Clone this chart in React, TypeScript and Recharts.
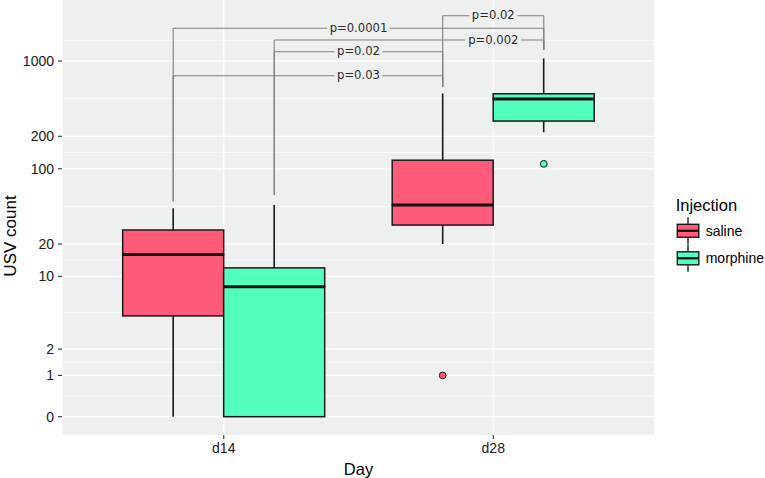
import {
  ComposedChart,
  Bar,
  XAxis,
  YAxis,
  CartesianGrid,
  Scatter,
  ReferenceLine,
  ReferenceDot,
  Legend,
} from "recharts";

// USV counts per day / injection (pseudo-log y axis)
const days = ["d14", "d28"];
const injections = ["saline", "morphine"];
const injectionColors = ["#FF5A79", "#52FFBC"];

const salineMin = [0, 20];
const salineQ1 = [4.25, 30];
const salineMedian = [16, 46];
const salineQ3 = [27, 120];
const salineMax = [43, 500];
const salineOutliers = [[], [1]];

const morphineMin = [0, 218];
const morphineQ1 = [0, 277];
const morphineMedian = [8, 444];
const morphineQ3 = [12, 496];
const morphineMax = [46, 1058];
const morphineOutliers = [[], [111]];

const yTicks = [0, 1, 2, 10, 20, 100, 200, 1000];

// significance brackets
const bracketLabels = ["p=0.0001", "p=0.02", "p=0.002", "p=0.02", "p=0.03"];
const bracketStart = ["saline-d14", "saline-d28", "morphine-d14", "morphine-d14", "saline-d14"];
const bracketEnd = ["morphine-d28", "morphine-d28", "morphine-d28", "saline-d28", "saline-d28"];
const bracketLevel = [2010, 2631, 1565, 1218, 729];
const bracketLabelAt = [1.5, 2, 2, 1.5, 1.5];
const tipEnds: Record<string, number> = {
  "saline-d14": 50,
  "morphine-d14": 57,
  "saline-d28": 577,
  "morphine-d28": 1264,
};

const PANEL = "#EEF0EF";
const INK = "#1a1a1a";
const AXIS_FONT = "'Liberation Sans', Arial, sans-serif";

// ggplot pseudo_log (sigma = 1) transform
const tf = (v: number) => Math.asinh(v);
const DODGE = 0.1875;

const posOf = (key: string) => {
  const [inj, day] = key.split("-");
  return days.indexOf(day) + 1 + (inj === "saline" ? -DODGE : DODGE);
};

const series = [
  { k: "s", min: salineMin, q1: salineQ1, med: salineMedian, q3: salineQ3, max: salineMax },
  { k: "m", min: morphineMin, q1: morphineQ1, med: morphineMedian, q3: morphineQ3, max: morphineMax },
];

const rows = days.map((day, i) => {
  const row: Record<string, string | number> = { day };
  series.forEach((s) => {
    row[s.k + "Base"] = tf(s.min[i]);
    row[s.k + "Lw"] = tf(s.q1[i]) - tf(s.min[i]);
    row[s.k + "Lb"] = tf(s.med[i]) - tf(s.q1[i]);
    row[s.k + "Ub"] = tf(s.q3[i]) - tf(s.med[i]);
    row[s.k + "Uw"] = tf(s.max[i]) - tf(s.q3[i]);
  });
  return row;
});

const outlierPoints = (outs: number[][], inj: number) =>
  outs.flatMap((vals, d) => vals.map((v) => ({ x: d + 1 + (inj === 0 ? -DODGE : DODGE), y: tf(v) })));

const minorGrid = [0.4407, 1.1625, 2.2209, 3.3439, 4.4939, 5.6449, 6.7962, 8.041];

// DejaVu Sans advance widths for the p-value labels
const dvw: Record<string, number> = { p: 0.635, "=": 0.838, ".": 0.318 };
const textWidth = (s: string, size: number) =>
  s.split("").reduce((a, c) => a + (dvw[c] ?? 0.636), 0) * size;

const blank = () => <g />;
const whisker = (p: any) => (
  <line
    x1={p.x + p.width / 2}
    x2={p.x + p.width / 2}
    y1={p.y}
    y2={p.y + p.height}
    stroke={INK}
    strokeWidth={1.6}
  />
);
const lowerBox = (color: string) => (p: any) =>
  p.height > 0 ? (
    <rect x={p.x} y={p.y} width={p.width} height={p.height} fill={color} stroke={INK} strokeWidth={1.5} />
  ) : (
    <g />
  );
const upperBox = (color: string) => (p: any) => (
  <g>
    {p.height > 0 && (
      <rect x={p.x} y={p.y} width={p.width} height={p.height} fill={color} stroke={INK} strokeWidth={1.5} />
    )}
    <line x1={p.x} x2={p.x + p.width} y1={p.y + p.height} y2={p.y + p.height} stroke="#111" strokeWidth={3} />
  </g>
);

function LegendBox() {
  const centers = [40.8, 68.3];
  return (
    <svg width={95} height={95} style={{ fontFamily: AXIS_FONT }}>
      <text x={5.7} y={20.7} fontSize={16.5} fill="#000">
        Injection
      </text>
      {injections.map((name, i) => (
        <g key={name}>
          <line x1={18} x2={18} y1={centers[i] - 13.5} y2={centers[i] + 13.5} stroke={INK} strokeWidth={1.4} />
          <rect x={7.3} y={centers[i] - 6.5} width={21.5} height={13} fill={injectionColors[i]} stroke={INK} strokeWidth={1.4} />
          <line x1={7.3} x2={28.8} y1={centers[i]} y2={centers[i]} stroke="#111" strokeWidth={2.2} />
          <text x={35.7} y={centers[i] + 5} fontSize={14} fill="#000">
            {name}
          </text>
        </g>
      ))}
    </svg>
  );
}

export default function App() {
  return (
    <div style={{ position: "absolute", left: 0, top: 0, fontFamily: AXIS_FONT }}>
      <ComposedChart
        width={765}
        height={478}
        data={rows}
        margin={{ top: 0, right: 110, bottom: 0, left: 0 }}
        barGap={0}
        barCategoryGap="12.5%"
      >
        <CartesianGrid fill={PANEL} stroke="#ffffff" strokeWidth={0.7} vertical={false} horizontalValues={minorGrid} />
        <CartesianGrid stroke="#ffffff" strokeWidth={1.3} horizontalValues={yTicks.map(tf)} />
        <XAxis
          dataKey="day"
          type="category"
          padding={{ left: 27, right: 27 }}
          height={43}
          tickSize={4}
          tickMargin={4}
          axisLine={false}
          interval={0}
          tickLine={{ stroke: "#333", strokeWidth: 1.1 }}
          tick={{ fill: "#1a1a1a", fontSize: 14 }}
          label={{
            content: (p: any) => (
              <text
                x={p.viewBox.x + p.viewBox.width / 2}
                y={p.viewBox.y + 40}
                textAnchor="middle"
                fontSize={16.5}
                fill="#000"
              >
                Day
              </text>
            ),
          }}
        />
        <XAxis xAxisId="num" dataKey="x" type="number" domain={[0.4, 2.6]} allowDataOverflow hide />
        <YAxis
          dataKey="y"
          type="number"
          domain={[-0.391, 8.904]}
          allowDataOverflow
          ticks={yTicks.map(tf)}
          interval={0}
          tickFormatter={(v: number) => String(Math.round(Math.sinh(v)))}
          width={62}
          tickSize={4}
          tickMargin={4}
          axisLine={false}
          tickLine={{ stroke: "#333", strokeWidth: 1.1 }}
          tick={{ fill: "#1a1a1a", fontSize: 14 }}
          label={{
            content: () => (
              <text x={15.5} y={236} transform="rotate(-90 15.5 236)" textAnchor="middle" fontSize={17} fill="#000">
                USV count
              </text>
            ),
          }}
        />

        {series.map((s, i) => [
          <Bar key={s.k + "Base"} dataKey={s.k + "Base"} stackId={s.k} shape={blank} isAnimationActive={false} legendType="none" />,
          <Bar key={s.k + "Lw"} dataKey={s.k + "Lw"} stackId={s.k} shape={whisker} isAnimationActive={false} legendType="none" />,
          <Bar key={s.k + "Lb"} dataKey={s.k + "Lb"} stackId={s.k} shape={lowerBox(injectionColors[i])} isAnimationActive={false} legendType="none" />,
          <Bar key={s.k + "Ub"} dataKey={s.k + "Ub"} stackId={s.k} shape={upperBox(injectionColors[i])} isAnimationActive={false} legendType="none" />,
          <Bar key={s.k + "Uw"} dataKey={s.k + "Uw"} stackId={s.k} shape={whisker} isAnimationActive={false} legendType="none" />,
        ])}

        {[salineOutliers, morphineOutliers].map((outs, i) => (
          <Scatter
            key={"out" + i}
            xAxisId="num"
            data={outlierPoints(outs, i)}
            isAnimationActive={false}
            legendType="none"
            shape={(p: any) => (
              <circle cx={p.cx} cy={p.cy} r={3.4} fill={injectionColors[i]} stroke={INK} strokeWidth={1} />
            )}
          />
        ))}

        {bracketLabels.flatMap((_, i) => {
          const x1 = posOf(bracketStart[i]);
          const x2 = posOf(bracketEnd[i]);
          const y = tf(bracketLevel[i]);
          const common = { xAxisId: "num", stroke: "#7f7f7f", strokeWidth: 1.1, ifOverflow: "visible" as const };
          return [
            <ReferenceLine key={"h" + i} {...common} segment={[{ x: x1, y }, { x: x2, y }]} />,
            <ReferenceLine key={"l" + i} {...common} segment={[{ x: x1, y }, { x: x1, y: tf(tipEnds[bracketStart[i]]) }]} />,
            <ReferenceLine key={"r" + i} {...common} segment={[{ x: x2, y }, { x: x2, y: tf(tipEnds[bracketEnd[i]]) }]} />,
          ];
        })}
        {bracketLabels.map((label, i) => (
          <ReferenceDot
            key={"t" + i}
            xAxisId="num"
            x={bracketLabelAt[i]}
            y={tf(bracketLevel[i])}
            r={0}
            ifOverflow="visible"
            shape={(p: any) => {
              const w = textWidth(label, 11.6) + 5;
              return (
                <g>
                  <rect x={p.cx - w / 2} y={p.cy - 6} width={w} height={12} fill={PANEL} />
                  <text
                    x={p.cx}
                    y={p.cy + 3.6}
                    textAnchor="middle"
                    fontSize={11.6}
                    fill="#2a2a2a"
                    fontFamily="'DejaVu Sans', sans-serif"
                  >
                    {label}
                  </text>
                </g>
              );
            }}
          />
        ))}

        <Legend
          layout="vertical"
          align="center"
          verticalAlign="middle"
          wrapperStyle={{ left: 670, top: 190, width: 95, height: 95 }}
          content={() => <LegendBox />}
        />
      </ComposedChart>
    </div>
  );
}
